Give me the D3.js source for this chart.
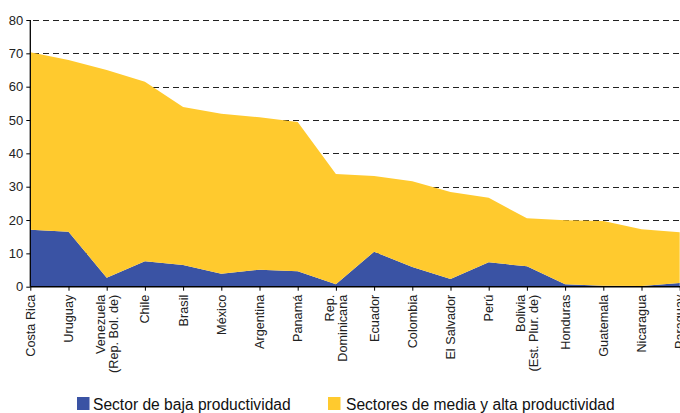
<!DOCTYPE html>
<html>
<head>
<meta charset="utf-8">
<script src="https://cdn.jsdelivr.net/npm/d3@7"></script>
<style>
  html, body { margin: 0; padding: 0; background: #fff; }
  svg { display: block; font-family: "Liberation Sans", Arial, sans-serif; }
</style>
</head>
<body>
<svg id="chart" width="680" height="413"></svg>
<script>
// Country labels (multi-line labels split by "\n")
const countries = [
  "Costa Rica", "Uruguay", "Venezuela\n(Rep. Bol. de)", "Chile", "Brasil",
  "México", "Argentina", "Panamá", "Rep.\nDominicana", "Ecuador", "Colombia",
  "El Salvador", "Perú", "Bolivia\n(Est. Plur. de)", "Honduras", "Guatemala",
  "Nicaragua", "Paraguay"
];
// Low-productivity sector share
const baja = [17.1, 16.5, 2.7, 7.6, 6.5, 3.9, 5.1, 4.6, 0.7, 10.5, 5.9, 2.3, 7.3, 6.1, 0.7, 0.3, 0.2, 1.1];
// Medium and high productivity sectors share
const mediaAlta = [53.2, 51.5, 62.3, 53.9, 47.4, 48.0, 45.7, 44.8, 33.1, 22.7, 25.7, 26.1, 19.4, 14.4, 19.2, 19.4, 17.0, 15.2];
const yTicks = [0, 10, 20, 30, 40, 50, 60, 70, 80];
const seriesNames = ["Sector de baja productividad", "Sectores de media y alta productividad"];
const colors = ["#3A53A4", "#FFCA2E"];

const svg = d3.select("#chart");
const x0 = 30.3, step = 38.2;
const x = d3.scalePoint().domain(countries).range([x0, x0 + step * (countries.length - 1)]);
const y = d3.scaleLinear().domain([0, 80]).range([286.7, 20]);

// Dashed gridlines (behind the areas)
svg.append("g").selectAll("line").data(yTicks.filter(d => d > 0)).join("line")
  .attr("x1", 33).attr("x2", 680)
  .attr("y1", d => Math.round(y(d)) + 0.5).attr("y2", d => Math.round(y(d)) + 0.5)
  .attr("stroke", "#222").attr("stroke-width", 1.1)
  .attr("stroke-dasharray", "6,4");

// Stacked areas
const rows = countries.map((c, i) => ({ c, baja: baja[i], media: mediaAlta[i] }));
const stack = d3.stack().keys(["baja", "media"]);
const layers = stack(rows);
const area = d3.area()
  .x(d => x(d.data.c))
  .y0(d => y(d[0]))
  .y1(d => y(d[1]));
svg.append("g").selectAll("path").data(layers).join("path")
  .attr("d", area)
  .attr("fill", (d, i) => colors[i]);

// Y axis
const yAxis = d3.axisLeft(y).tickValues(yTicks).tickSize(4).tickPadding(3);
const gy = svg.append("g").attr("transform", `translate(${x0},0)`).call(yAxis);
gy.select(".domain").attr("stroke", "#000").attr("stroke-width", 1.3).attr("d", `M0,${y(0)}V${y(80)}`);
gy.selectAll(".tick line").attr("stroke", "#000");
gy.selectAll(".tick text").attr("font-size", 13).attr("fill", "#222")
  .attr("font-family", "Liberation Sans, Arial, sans-serif");

// X axis
const xAxis = d3.axisBottom(x).tickSize(4).tickFormat("");
const gx = svg.append("g").attr("transform", `translate(0,${y(0)})`).call(xAxis);
gx.select(".domain").attr("stroke", "#000").attr("stroke-width", 1.5).attr("d", `M${x0},0H680`);
gx.selectAll(".tick line").attr("stroke", "#000");

// Rotated country labels
const labels = svg.append("g").attr("font-size", 12.7).attr("fill", "#222");
countries.forEach(c => {
  const lines = c.split("\n");
  const t = labels.append("text")
    .attr("transform", `translate(${x(c)},${y(0) + 8}) rotate(-90)`)
    .attr("text-anchor", "end");
  const lh = 13;
  lines.forEach((ln, j) => {
    const off = (j - (lines.length - 1) / 2) * lh + 4.4;
    t.append("tspan").attr("x", 0).attr("y", off).text(ln);
  });
});

// Legend
const legendPos = [{ rx: 77, tx: 93 }, { rx: 328, tx: 346 }];
const lg = svg.append("g");
seriesNames.forEach((name, i) => {
  lg.append("rect").attr("x", legendPos[i].rx).attr("y", 397)
    .attr("width", 12.5).attr("height", 13).attr("fill", colors[i]);
  lg.append("text").attr("x", legendPos[i].tx).attr("y", 409.5)
    .attr("font-size", 15.6).attr("fill", "#111").text(name);
});
</script>
</body>
</html>
